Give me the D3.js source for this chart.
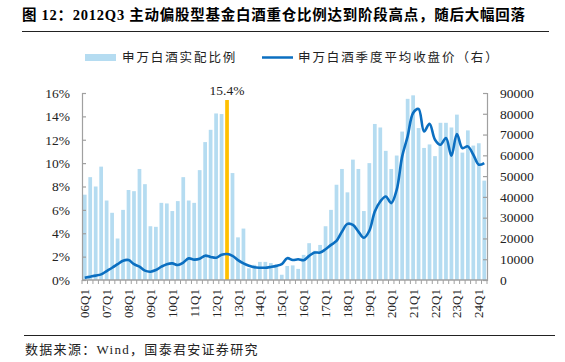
<!DOCTYPE html>
<html>
<head>
<meta charset="utf-8">
<script src="https://cdn.jsdelivr.net/npm/d3@7"></script>
<style>
  body { margin: 0; background: #fff; }
  svg { display: block; }
</style>
</head>
<body>
<div id="chart"></div>
<script>
// quarters 06Q1 .. 24Q2
const years = ["06","07","08","09","10","11","12","13","14","15","16","17","18","19","20","21","22","23","24"];
const quarters = [];
years.forEach(y => ["Q1","Q2","Q3","Q4"].forEach(q => quarters.push(y + q)));
quarters.splice(74);

// 申万白酒实配比例 (%)
const ratio = [
  7.3, 8.8, 8.0, 9.7, 6.8, 5.75, 3.55, 6.0, 7.7, 7.6, 9.5, 8.2,
  4.6, 4.55, 6.6, 6.55, 5.9, 6.75, 8.8, 6.8, 6.6, 9.4, 11.8, 12.85,
  14.25, 14.2, 15.4, 9.15, 3.65, 4.4, 1.0, 1.3, 1.55, 1.55, 1.45, 1.3,
  0.45, 1.2, 1.25, 0.95, 2.15, 3.15, 2.5, 3.0, 4.6, 6.0, 8.15, 9.5,
  7.5, 10.3, 9.5, 5.9, 10.0, 13.35, 13.05, 11.05, 9.5, 10.65, 12.7, 15.5,
  15.8, 13.0, 11.3, 11.6, 10.6, 13.45, 13.45, 13.05, 14.15, 10.9, 12.8, 11.5,
  11.7, 8.5
];

// 申万白酒季度平均收盘价
const price = [
  1100, 1600, 2100, 2700, 4300, 5900, 7600, 9300, 9600, 7600, 6400, 4500,
  4000, 4800, 6400, 7600, 8000, 7200, 8400, 10400, 9800, 10200, 11700, 11100,
  10700, 12100, 12500, 11600, 9600, 8000, 6900, 6100, 5900, 5900, 6300, 6800,
  7600, 10500, 9600, 10000, 9500, 11600, 13200, 13200, 14800, 16900, 18800, 23300,
  27000, 26500, 23300, 20300, 23700, 33000, 37800, 40200, 37000, 43400, 59500, 69100,
  80400, 82300, 71500, 75200, 67500, 65100, 68300, 59800, 70300, 63500, 64300, 60300,
  55500, 56300
];

const leftTicks = [0, 2, 4, 6, 8, 10, 12, 14, 16];
const rightTicks = [0, 10000, 20000, 30000, 40000, 50000, 60000, 70000, 80000, 90000];
const peakQuarter = "12Q3";

const W = 565, H = 362;
const margin = { left: 82, right: 78, top: 93, bottom: 82 };
const serif = "'Liberation Serif', 'Times New Roman', serif";
const cjk = "'Liberation Serif', 'Noto Sans CJK SC', serif";

const svg = d3.select("#chart").append("svg")
  .attr("width", W)
  .attr("height", H);

const x = d3.scaleBand()
  .domain(quarters)
  .range([margin.left, W - margin.right])
  .paddingInner(0.32)
  .paddingOuter(0.16);

const yL = d3.scaleLinear().domain([0, 16]).range([H - margin.bottom, margin.top]);
const yR = d3.scaleLinear().domain([0, 90000]).range([H - margin.bottom, margin.top]);

// title
svg.append("text")
  .attr("x", 22)
  .attr("y", 20)
  .style("font-family", cjk)
  .style("font-weight", "bold")
  .style("font-size", "14.5px")
  .style("letter-spacing", "0.75px")
  .text("图 12：2012Q3 主动偏股型基金白酒重仓比例达到阶段高点，随后大幅回落");

svg.append("line")
  .attr("x1", 22).attr("x2", 549)
  .attr("y1", 31.5).attr("y2", 31.5)
  .attr("stroke", "#222").attr("stroke-width", 1);

// legend
const lg = svg.append("g").style("font-family", "'Noto Sans CJK SC', sans-serif")
  .style("font-size", "12.5px").style("letter-spacing", "1.9px").attr("fill", "#222");
lg.append("rect").attr("x", 85).attr("y", 54).attr("width", 31).attr("height", 7).attr("fill", "#b5dcf1");
lg.append("text").attr("x", 122).attr("y", 62).text("申万白酒实配比例");
lg.append("line").attr("x1", 262).attr("x2", 293).attr("y1", 57.5).attr("y2", 57.5)
  .attr("stroke", "#0b6fc1").attr("stroke-width", 2.5);
lg.append("text").attr("x", 298).attr("y", 62).text("申万白酒季度平均收盘价（右）");

// bars
svg.append("g")
  .selectAll("rect")
  .data(quarters)
  .join("rect")
  .attr("x", d => x(d))
  .attr("width", x.bandwidth())
  .attr("y", (d, i) => yL(ratio[i]))
  .attr("height", (d, i) => yL(0) - yL(ratio[i]))
  .attr("fill", d => d === peakQuarter ? "#ffc000" : "#b5dcf1");

// peak label
const pi = quarters.indexOf(peakQuarter);
svg.append("text")
  .attr("x", x(peakQuarter) + x.bandwidth() / 2)
  .attr("y", yL(ratio[pi]) - 5)
  .attr("text-anchor", "middle")
  .style("font-family", serif)
  .style("font-size", "13.5px")
  .attr("fill", "#222")
  .text("15.4%");

// line
const line = d3.line()
  .x((d, i) => x(quarters[i]) + x.bandwidth() / 2)
  .y(d => yR(d))
  .curve(d3.curveCatmullRom.alpha(0.5));

svg.append("path")
  .datum(price)
  .attr("d", line)
  .attr("fill", "none")
  .attr("stroke", "#0b6fc1")
  .attr("stroke-width", 2.6)
  .attr("stroke-linejoin", "round");

// axes
const axisColor = "#a0a0a0";

const left = svg.append("g")
  .attr("transform", `translate(${margin.left},0)`)
  .call(d3.axisLeft(yL).tickValues(leftTicks).tickSize(-4).tickPadding(12).tickFormat(d => d + "%"));

const right = svg.append("g")
  .attr("transform", `translate(${W - margin.right},0)`)
  .call(d3.axisRight(yR).tickValues(rightTicks).tickSize(-4).tickPadding(13).tickFormat(d3.format("d")));

[left, right].forEach(g => {
  g.select(".domain").attr("stroke", axisColor).attr("stroke-width", 1.2);
  g.selectAll(".tick line").attr("stroke", axisColor).attr("stroke-width", 1.2);
  g.selectAll(".tick text").style("font-family", serif).style("font-size", "13.5px").attr("fill", "#222");
});

// x axis baseline with ticks between categories
const base = yL(0);
const xg = svg.append("g");
xg.append("line")
  .attr("x1", margin.left).attr("x2", W - margin.right)
  .attr("y1", base).attr("y2", base)
  .attr("stroke", axisColor).attr("stroke-width", 1.5);

const step = x.step();
const x0 = x(quarters[0]) - step * 0.16;
xg.selectAll(".xt")
  .data(d3.range(quarters.length + 1))
  .join("line")
  .attr("class", "xt")
  .attr("x1", i => x0 + i * step)
  .attr("x2", i => x0 + i * step)
  .attr("y1", base).attr("y2", base + 4)
  .attr("stroke", axisColor).attr("stroke-width", 1);

xg.selectAll(".xl")
  .data(quarters.filter(q => q.endsWith("Q1")))
  .join("text")
  .attr("class", "xl")
  .attr("transform", d => `translate(${x(d) + x.bandwidth() / 2},${base + 9}) rotate(-90)`)
  .attr("text-anchor", "end")
  .attr("dy", "0.35em")
  .style("font-family", serif)
  .style("font-size", "13px")
  .attr("fill", "#222")
  .text(d => d);

// footer
svg.append("line")
  .attr("x1", 24).attr("x2", 555)
  .attr("y1", 335.5).attr("y2", 335.5)
  .attr("stroke", "#222").attr("stroke-width", 1);

svg.append("text")
  .attr("x", 25)
  .attr("y", 354)
  .style("font-family", cjk)
  .style("font-size", "13px")
  .style("letter-spacing", "1.3px")
  .attr("fill", "#222")
  .text("数据来源：Wind，国泰君安证券研究");
</script>
</body>
</html>
